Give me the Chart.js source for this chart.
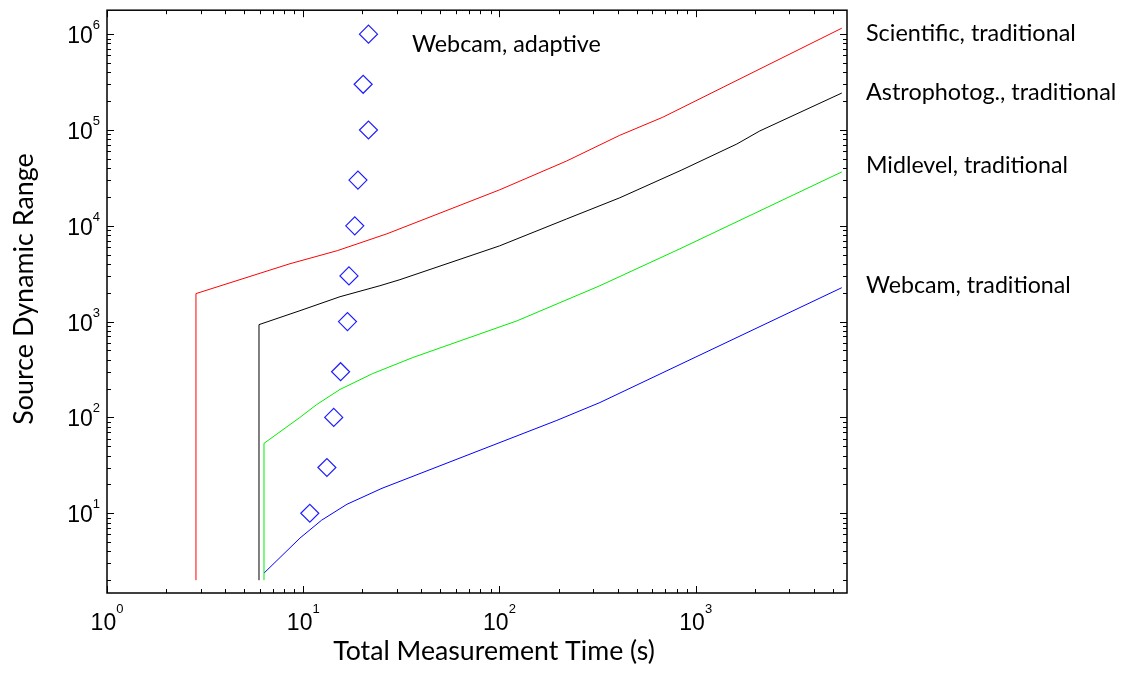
<!DOCTYPE html>
<html>
<head>
<meta charset="utf-8">
<script src="https://cdn.jsdelivr.net/npm/chart.js@4"></script>
<style>
  body { margin: 0; background: #fff; }
  canvas { display: block; }
</style>
</head>
<body>
<canvas id="rangeChart" width="1125" height="679"></canvas>
<script>

// DATA

const redX = [2.84, 2.84, 8.56, 14.9, 26.7, 100, 220, 410, 680, 5550];
const redY = [2.0, 1960, 4020, 5500, 8250, 23700, 47500, 88000, 136000, 1155000];

const blackX = [5.95, 5.95, 9.62, 15.4, 24.6, 31.1, 100, 220, 410, 850, 1620, 2120, 5550];
const blackY = [2.0, 930, 1300, 1820, 2370, 2740, 6170, 11800, 19600, 38300, 71400, 97700, 243000];

const greenX = [6.31, 6.31, 9.62, 11.7, 15.4, 22.6, 36.2, 123, 325, 830, 5550];
const greenY = [2.0, 53.6, 100, 136, 196, 287, 422, 1020, 2370, 5750, 36500];

const blueX = [6.31, 9.62, 12.4, 16.7, 25.2, 196, 325, 5550];
const blueY = [2.37, 5.5, 8.45, 12.4, 18.2, 93.1, 143, 2260];

const adaptiveX = [10.8, 13.2, 14.3, 15.5, 16.8, 17.1, 18.3, 19.0, 21.5, 20.2, 21.5];
const adaptiveY = [10, 30, 100, 300, 1000, 3000, 10000, 30000, 100000, 300000, 1000000];

const xTickExps = [0, 1, 2, 3];
const yTickExps = [1, 2, 3, 4, 5, 6];

const curveLabels = ['Scientific, traditional', 'Astrophotog., traditional', 'Midlevel, traditional', 'Webcam, traditional'];
const adaptiveLabel = 'Webcam, adaptive';
const xTitle = 'Total Measurement Time (s)';
const yTitle = 'Source Dynamic Range';

// layout
const labelBaselines = [41, 100, 173, 293];
const labelWidths = [210, 250, 202, 205];
const family = 'Lato';

function pairs(xs, ys) {
    return xs.map((x, i) => ({ x: x, y: ys[i] }));
}

function lineSet(xs, ys, color) {
    return {
        data: pairs(xs, ys),
        showLine: true,
        borderColor: color,
        borderWidth: 1,
        pointRadius: 0,
        tension: 0
    };
}

// set the font so that the text is about `width` px wide
function fitFont(ctx, text, width) {
    ctx.font = '100px ' + family;
    const size = 100 * width / ctx.measureText(text).width;
    ctx.font = size.toFixed(1) + 'px ' + family;
}


// AXES, TICKS AND TEXT

const axesPlugin = {
    id: 'axesPlugin',
    afterDraw(chart) {
        const ctx = chart.ctx;
        const a = chart.chartArea;
        const xs = chart.scales.x;
        const ys = chart.scales.y;

        ctx.save();
        ctx.strokeStyle = '#000';
        ctx.lineWidth = 1;

        // inward ticks on all four sides
        ctx.beginPath();
        for (let e = 0; e <= 3; e++) {
            for (let m = 1; m <= 9; m++) {
                const v = m * Math.pow(10, e);
                if (v < xs.min || v > xs.max) continue;
                const p = Math.round(xs.getPixelForValue(v)) + 0.5;
                const len = m === 1 ? 7 : 4;
                ctx.moveTo(p, a.bottom); ctx.lineTo(p, a.bottom - len);
                ctx.moveTo(p, a.top); ctx.lineTo(p, a.top + len);
            }
        }
        for (let e = 0; e <= 6; e++) {
            for (let m = 1; m <= 9; m++) {
                const v = m * Math.pow(10, e);
                if (v < ys.min || v > ys.max) continue;
                const p = Math.round(ys.getPixelForValue(v)) + 0.5;
                const len = m === 1 ? 7 : 4;
                ctx.moveTo(a.left, p); ctx.lineTo(a.left + len, p);
                ctx.moveTo(a.right, p); ctx.lineTo(a.right - len, p);
            }
        }
        ctx.stroke();

        // box
        ctx.lineWidth = 1.5;
        ctx.strokeRect(a.left, a.top, a.right - a.left, a.bottom - a.top);

        // tick labels 10^n
        ctx.fillStyle = '#000';
        ctx.textBaseline = 'alphabetic';
        ctx.textAlign = 'left';
        const big = '23px "Liberation Sans", Arial, sans-serif';
        const small = '13px "Liberation Sans", Arial, sans-serif';

        xTickExps.forEach(function (e) {
            const p = xs.getPixelForValue(Math.pow(10, e));
            ctx.font = big;
            const w1 = ctx.measureText('10').width;
            ctx.font = small;
            const w2 = ctx.measureText(String(e)).width;
            const left = p - (w1 + w2) / 2;
            ctx.font = big;
            ctx.fillText('10', left, a.bottom + 37);
            ctx.font = small;
            ctx.fillText(String(e), left + w1, a.bottom + 20);
        });

        yTickExps.forEach(function (e) {
            const p = ys.getPixelForValue(Math.pow(10, e));
            ctx.font = big;
            const w1 = ctx.measureText('10').width;
            ctx.font = small;
            const w2 = ctx.measureText(String(e)).width;
            const right = a.left - 7;
            ctx.font = big;
            ctx.fillText('10', right - w2 - w1, p + 9);
            ctx.font = small;
            ctx.fillText(String(e), right - w2, p - 5);
        });

        // curve labels
        curveLabels.forEach(function (t, i) {
            fitFont(ctx, t, labelWidths[i]);
            ctx.fillText(t, 866, labelBaselines[i]);
        });
        fitFont(ctx, adaptiveLabel, 189);
        ctx.fillText(adaptiveLabel, 412, 52);

        // axis titles
        ctx.textAlign = 'center';
        fitFont(ctx, xTitle, 322);
        ctx.fillText(xTitle, 494, 660);
        fitFont(ctx, yTitle, 272);
        ctx.translate(33, 289);
        ctx.rotate(-Math.PI / 2);
        ctx.fillText(yTitle, 0, 0);

        ctx.restore();
    }
};


// CHART

const rangeChart = document.getElementById('rangeChart');

new Chart(rangeChart, {

    type: 'scatter',

    data: {
        datasets: [
            lineSet(redX, redY, '#ff0000'),
            lineSet(blackX, blackY, '#000000'),
            lineSet(greenX, greenY, '#00ee00'),
            lineSet(blueX, blueY, '#0000ff'),
            {
                data: pairs(adaptiveX, adaptiveY),
                showLine: false,
                pointStyle: 'rectRot',
                pointRadius: 9,
                borderColor: '#1f1fff',
                borderWidth: 1.2,
                backgroundColor: 'rgba(0,0,0,0)'
            }
        ]
    },

    options: {
        responsive: false,
        animation: false,
        devicePixelRatio: 1,
        layout: { padding: { left: 107, right: 278, top: 9, bottom: 86 } },
        plugins: {
            legend: { display: false },
            tooltip: { enabled: false }
        },
        scales: {
            x: { type: 'logarithmic', min: 1, max: 5900, display: false },
            y: { type: 'logarithmic', min: 1.47, max: 1780000, display: false }
        }
    },

    plugins: [axesPlugin]

});

</script>
</body>
</html>
